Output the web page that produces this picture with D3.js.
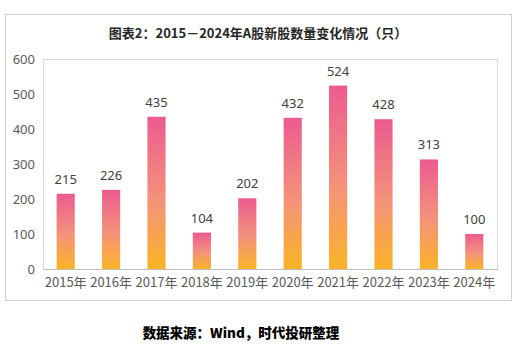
<!DOCTYPE html>
<html>
<head>
<meta charset="utf-8">
<script src="https://cdn.jsdelivr.net/npm/d3@7"></script>
<style>
  body { margin: 0; background: #fff; }
</style>
</head>
<body>
<div id="canvas"></div>
<script>
// data
let years = ["2015年","2016年","2017年","2018年","2019年","2020年","2021年","2022年","2023年","2024年"]
let counts = [215, 226, 435, 104, 202, 432, 524, 428, 313, 100]
let yTicks = [0, 100, 200, 300, 400, 500, 600]

window.onload = function (){ setup() }

function setup(){
  let width = 523, height = 353
  let plot = {left: 43, right: 497, top: 59, bottom: 269}

  let svg = d3.select("#canvas")
    .append("svg")
    .attr("width", width)
    .attr("height", height)

  // bar gradient, pink on top, orange at the bottom
  let grad = svg.append("defs").append("linearGradient")
    .attr("id", "barGrad")
    .attr("x1", 0).attr("y1", 0).attr("x2", 0).attr("y2", 1)
  grad.append("stop").attr("offset", "0%").attr("stop-color", "#ec5b90")
  grad.append("stop").attr("offset", "55%").attr("stop-color", "#f4937a")
  grad.append("stop").attr("offset", "100%").attr("stop-color", "#fab327")

  // outer frame
  svg.append("rect")
    .attr("x", 5.5).attr("y", 14.5)
    .attr("width", 506).attr("height", 286)
    .attr("fill", "#fff")
    .attr("stroke", "#d0d0d0")

  svg.append("text")
    .attr("x", 258).attr("y", 38)
    .attr("text-anchor", "middle")
    .attr("font-family", "'Noto Sans CJK SC', sans-serif")
    .attr("font-weight", 700)
    .attr("font-size", 13)
    .attr("fill", "#262626")
    .text("图表2：2015－2024年A股新股数量变化情况（只）")

  let x = d3.scaleBand()
    .domain(years)
    .range([plot.left, plot.right])
    .paddingInner(0.6)
    .paddingOuter(0.3)

  let y = d3.scaleLinear()
    .domain([0, 600])
    .range([plot.bottom, plot.top])

  // plot area box
  svg.append("rect")
    .attr("x", plot.left + 0.5).attr("y", plot.top + 0.5)
    .attr("width", plot.right - plot.left).attr("height", plot.bottom - plot.top)
    .attr("fill", "none")
    .attr("stroke", "#d9d9d9")

  let yAxis = svg.append("g")
    .attr("transform", `translate(${plot.left},0)`)
    .call(d3.axisLeft(y).tickValues(yTicks).tickSize(0).tickPadding(8))
  yAxis.select(".domain").remove()
  yAxis.selectAll("text")
    .attr("font-family", "'Noto Sans', sans-serif")
    .attr("font-size", 13)
    .attr("fill", "#595959")

  let xAxis = svg.append("g")
    .attr("transform", `translate(0,${plot.bottom})`)
    .call(d3.axisBottom(x).tickSize(0).tickPadding(9))
  xAxis.select(".domain").attr("stroke", "#bfbfbf")
  xAxis.selectAll("text")
    .attr("font-family", "'Noto Sans CJK SC', sans-serif")
    .attr("font-size", 13)
    .attr("fill", "#595959")

  svg.selectAll("rect.bar")
    .data(counts)
    .join("rect")
    .attr("class", "bar")
    .attr("x", (d, i) => x(years[i]))
    .attr("y", d => y(d))
    .attr("width", x.bandwidth())
    .attr("height", d => y(0) - y(d))
    .attr("fill", "url(#barGrad)")

  svg.selectAll("text.val")
    .data(counts)
    .join("text")
    .attr("class", "val")
    .attr("x", (d, i) => x(years[i]) + x.bandwidth() / 2)
    .attr("y", d => y(d) - 10)
    .attr("text-anchor", "middle")
    .attr("font-family", "'Noto Sans', sans-serif")
    .attr("font-size", 13)
    .attr("fill", "#404040")
    .text(d => d)

  svg.append("text")
    .attr("x", 241).attr("y", 338)
    .attr("text-anchor", "middle")
    .attr("font-family", "'Noto Sans CJK SC', sans-serif")
    .attr("font-weight", 900)
    .attr("font-size", 13.5)
    .attr("fill", "#000")
    .text("数据来源：Wind，时代投研整理")
}
</script>
</body>
</html>
